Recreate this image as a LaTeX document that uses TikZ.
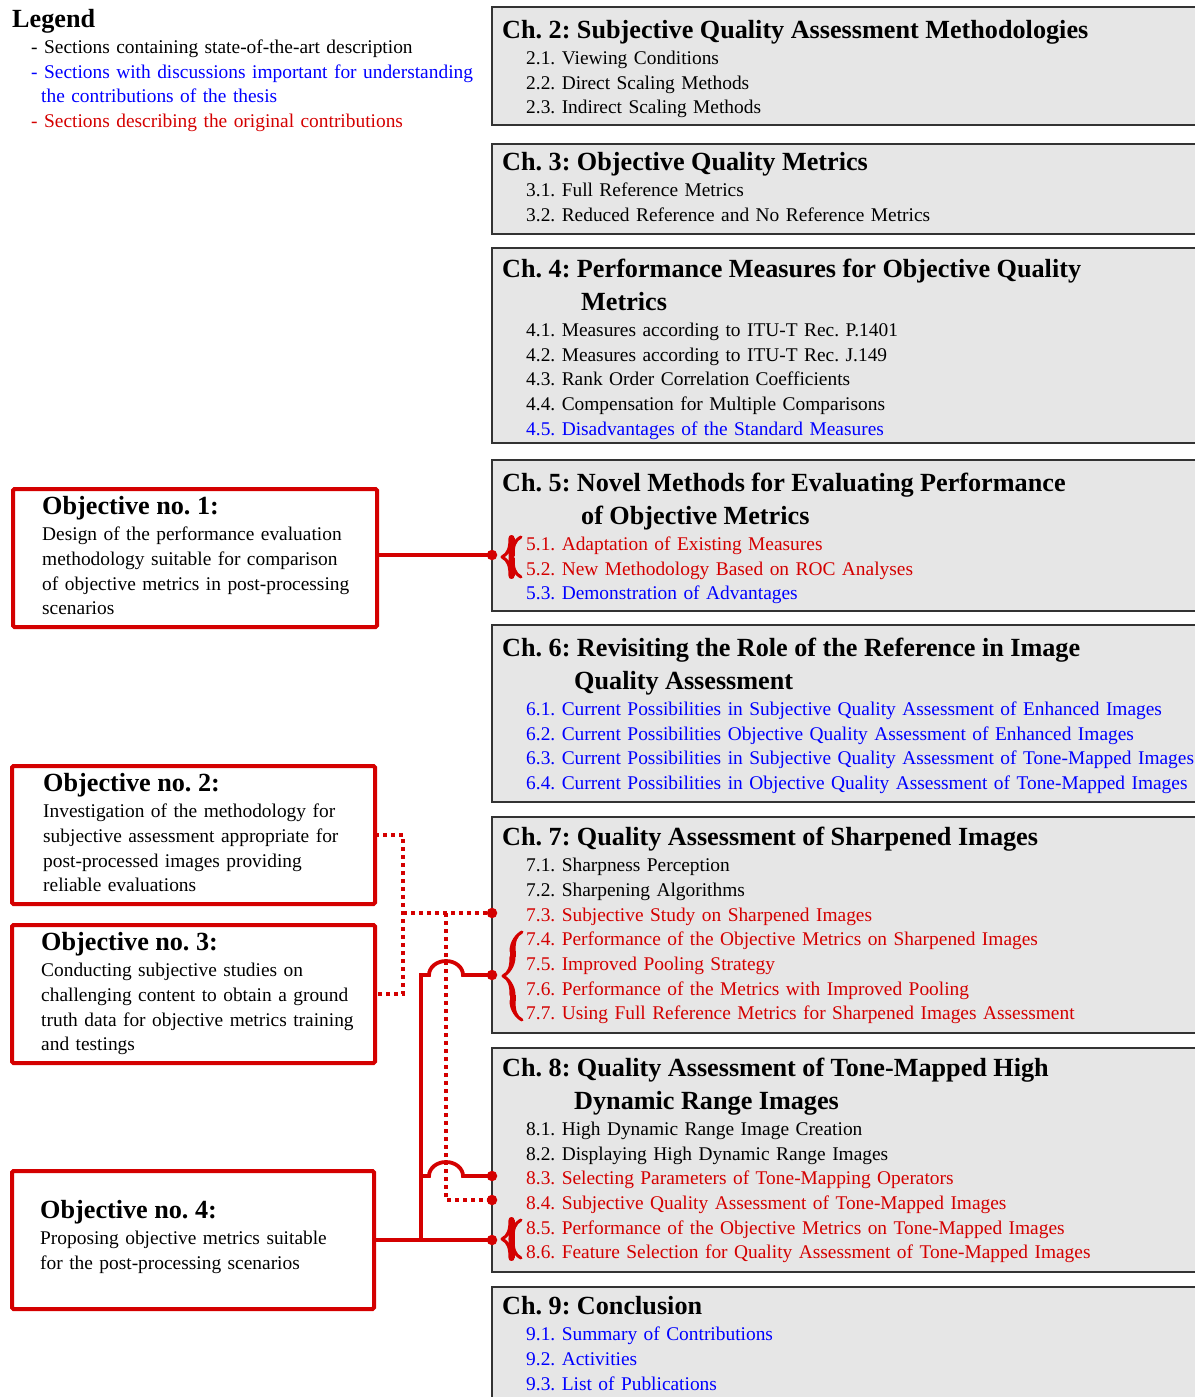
\documentclass[tikz,border=0pt]{standalone}
\usepackage{fontspec}
\setmainfont{Liberation Serif}
\usetikzlibrary{calc,decorations.pathreplacing,calligraphy}
\definecolor{objred}{RGB}{212,0,0}
\definecolor{secblue}{RGB}{0,0,255}
\definecolor{chgrey}{RGB}{230,230,230}
\newcommand{\bodyfont}{\fontsize{19.4pt}{24.7pt}\selectfont\frenchspacing\hyphenpenalty=10000}
\newcommand{\headfont}{\fontsize{26.2pt}{33pt}\selectfont\bfseries}
\newcommand{\chsec}[1]{\hspace*{24pt}#1}
\newcommand{\bsec}[1]{\hspace*{24pt}\textcolor{secblue}{#1}}
\newcommand{\rsec}[1]{\hspace*{24pt}\textcolor{objred}{#1}}

\begin{document}
\begin{tikzpicture}[x=1pt,y=-1pt]
\tikzstyle{chbox}=[rectangle, anchor=north west, draw=black!80, line width=1.8pt, fill=chgrey, minimum width=720pt, inner sep=0pt, outer sep=0pt]
\tikzstyle{chtext}=[anchor=base west, inner sep=0pt, text width=720pt, align=left, font=\bodyfont]
\tikzstyle{objbox}=[rectangle, anchor=north west, draw=objred, line width=4pt, rounded corners=1.5pt, minimum width=364pt, minimum height=138pt, inner sep=0pt, outer sep=0pt]
\tikzstyle{objtext}=[chtext, text width=340pt]
\tikzstyle{connect}=[objred, line width=3.8pt]
\tikzstyle{dotconnect}=[connect, dash pattern=on 4pt off 4pt]
\tikzstyle{jdot}=[circle, fill=objred, minimum size=10.5pt, inner sep=0pt]
\tikzstyle{secbrace}=[decorate, decoration={calligraphic brace, amplitude=19pt}, pen colour={objred}, line width=6pt]

  \useasboundingbox (0,0) rectangle (1194,1397);

  % legend
  \node[chtext] (legend) at (12,27.7) {{\headfont Legend}\\[1.2pt]
    \hspace*{19pt}- Sections containing state-of-the-art description\\
    \hspace*{19pt}\textcolor{secblue}{- Sections with discussions important for understanding}\\
    \hspace*{29pt}\textcolor{secblue}{the contributions of the thesis}\\
    \hspace*{19pt}\textcolor{objred}{- Sections describing the original contributions}};

  % chapters
  \node[chbox, minimum height=118pt] (ch2) at (492,7) {};
  \node[chtext] (ch2t) at ($(ch2.north west)+(10,31.7)$) {{\headfont Ch. 2: Subjective Quality Assessment Methodologies}\\[1.2pt]
    \chsec{2.1. Viewing Conditions}\\
    \chsec{2.2. Direct Scaling Methods}\\
    \chsec{2.3. Indirect Scaling Methods}};

  \node[chbox, minimum height=90pt] (ch3) at (492,144) {};
  \node[chtext] (ch3t) at ($(ch3.north west)+(10,26.7)$) {{\headfont Ch. 3: Objective Quality Metrics}\\[1.2pt]
    \chsec{3.1. Full Reference Metrics}\\
    \chsec{3.2. Reduced Reference and No Reference Metrics}};

  \node[chbox, minimum height=195pt] (ch4) at (492,248) {};
  \node[chtext] (ch4t) at ($(ch4.north west)+(10,29.7)$) {{\headfont Ch. 4: Performance Measures for Objective Quality}\\[8pt]
    {\headfont\hspace*{79pt}Metrics}\\[1.2pt]
    \chsec{4.1. Measures according to ITU-T Rec. P.1401}\\
    \chsec{4.2. Measures according to ITU-T Rec. J.149}\\
    \chsec{4.3. Rank Order Correlation Coefficients}\\
    \chsec{4.4. Compensation for Multiple Comparisons}\\
    \bsec{4.5. Disadvantages of the Standard Measures}};

  \node[chbox, minimum height=151pt] (ch5) at (492,460) {};
  \node[chtext] (ch5t) at ($(ch5.north west)+(10,31.7)$) {{\headfont Ch. 5: Novel Methods for Evaluating Performance}\\[8pt]
    {\headfont\hspace*{79pt}of Objective Metrics}\\[1.2pt]
    \rsec{5.1. Adaptation of Existing Measures}\\
    \rsec{5.2. New Methodology Based on ROC Analyses}\\
    \bsec{5.3. Demonstration of Advantages}};

  \node[chbox, minimum height=177pt] (ch6) at (492,625) {};
  \node[chtext] (ch6t) at ($(ch6.north west)+(10,31.7)$) {{\headfont Ch. 6: Revisiting the Role of the Reference in Image}\\[8pt]
    {\headfont\hspace*{72pt}Quality Assessment}\\[1.2pt]
    \bsec{6.1. Current Possibilities in Subjective Quality Assessment of Enhanced Images}\\
    \bsec{6.2. Current Possibilities Objective Quality Assessment of Enhanced Images}\\
    \bsec{6.3. Current Possibilities in Subjective Quality Assessment of Tone-Mapped Images}\\
    \bsec{6.4. Current Possibilities in Objective Quality Assessment of Tone-Mapped Images}};

  \node[chbox, minimum height=216pt] (ch7) at (492,817) {};
  \node[chtext] (ch7t) at ($(ch7.north west)+(10,28.7)$) {{\headfont Ch. 7: Quality Assessment of Sharpened Images}\\[1.2pt]
    \chsec{7.1. Sharpness Perception}\\
    \chsec{7.2. Sharpening Algorithms}\\
    \rsec{7.3. Subjective Study on Sharpened Images}\\
    \rsec{7.4. Performance of the Objective Metrics on Sharpened Images}\\
    \rsec{7.5. Improved Pooling Strategy}\\
    \rsec{7.6. Performance of the Metrics with Improved Pooling}\\
    \rsec{7.7. Using Full Reference Metrics for Sharpened Images Assessment}};

  \node[chbox, minimum height=224pt] (ch8) at (492,1048) {};
  \node[chtext] (ch8t) at ($(ch8.north west)+(10,28.7)$) {{\headfont Ch. 8: Quality Assessment of Tone-Mapped High}\\[8pt]
    {\headfont\hspace*{72pt}Dynamic Range Images}\\[1.2pt]
    \chsec{8.1. High Dynamic Range Image Creation}\\
    \chsec{8.2. Displaying High Dynamic Range Images}\\
    \rsec{8.3. Selecting Parameters of Tone-Mapping Operators}\\
    \rsec{8.4. Subjective Quality Assessment of Tone-Mapped Images}\\
    \rsec{8.5. Performance of the Objective Metrics on Tone-Mapped Images}\\
    \rsec{8.6. Feature Selection for Quality Assessment of Tone-Mapped Images}};

  \node[chbox, minimum height=140pt] (ch9) at (492,1287) {};
  \node[chtext] (ch9t) at ($(ch9.north west)+(10,27.7)$) {{\headfont Ch. 9: Conclusion}\\[1.2pt]
    \bsec{9.1. Summary of Contributions}\\
    \bsec{9.2. Activities}\\
    \bsec{9.3. List of Publications}};

  % objectives
  \node[objbox] (obj1) at (13,489) {};
  \node[objtext] (obj1t) at ($(obj1.north west)+(29,25.7)$) {{\headfont Objective no. 1:}\\[1.2pt]
    Design of the performance evaluation\\
    methodology suitable for comparison\\
    of objective metrics in post-processing\\
    scenarios};

  \node[objbox, minimum width=363pt] (obj2) at (12,766) {};
  \node[objtext] (obj2t) at ($(obj2.north west)+(31,25.7)$) {{\headfont Objective no. 2:}\\[1.2pt]
    Investigation of the methodology for\\
    subjective assessment appropriate for\\
    post-processed images providing\\
    reliable evaluations};

  \node[objbox, minimum width=363pt] (obj3) at (12,925) {};
  \node[objtext] (obj3t) at ($(obj3.north west)+(29,25.7)$) {{\headfont Objective no. 3:}\\[1.2pt]
    Conducting subjective studies on\\
    challenging content to obtain a ground\\
    truth data for objective metrics training\\
    and testings};

  \node[objbox, minimum width=362pt] (obj4) at (12,1171) {};
  \node[objtext] (obj4t) at ($(obj4.north west)+(28,47.7)$) {{\headfont Objective no. 4:}\\[1.2pt]
    Proposing objective metrics suitable\\
    for the post-processing scenarios};

  % braces
  \draw[secbrace] ($(ch5.north west)+(29,117)$) -- ($(ch5.north west)+(29,77)$);
  \draw[secbrace] ($(ch7.north west)+(30,203)$) -- ($(ch7.north west)+(30,115)$);
  \draw[secbrace] ($(ch8.north west)+(29,210)$) -- ($(ch8.north west)+(29,172)$);

  % connectors
  \coordinate (c5)  at ($(ch5.north west)+(0,95)$);
  \coordinate (c73) at ($(ch7.north west)+(0,96)$);
  \coordinate (c7)  at ($(ch7.north west)+(0,158)$);
  \coordinate (c83) at ($(ch8.north west)+(0,128)$);
  \coordinate (c84) at ($(ch8.north west)+(0,152)$);
  \coordinate (c8)  at ($(ch8.north west)+(0,192)$);
  \coordinate (dv) at (403,913);
  \coordinate (dw) at (446,913);
  \coordinate (sv) at (421,1240);

  \draw[connect] (obj1.east |- c5) -- (c5);

  \draw[dotconnect] (obj2.east) -- (obj2.east -| dv) -- (obj3.east -| dv) -- (obj3.east);
  \draw[dotconnect] (dv) -- (c73);
  \draw[dotconnect] (dw) |- (c84);

  \draw[connect] (obj4.east) -- (c8);
  \draw[connect] (sv) |- ($(dw |- c7)+(-17,0)$) arc[start angle=180, end angle=0, x radius=17pt, y radius=14pt] -- (c7);
  \draw[connect] (sv |- c83) -- ($(dw |- c83)+(-17,0)$) arc[start angle=180, end angle=0, x radius=17pt, y radius=14pt] -- (c83);

  \node[jdot] (dot5)  at (c5)  {};
  \node[jdot] (dot73) at (c73) {};
  \node[jdot] (dot7)  at (c7)  {};
  \node[jdot] (dot83) at (c83) {};
  \node[jdot] (dot84) at (c84) {};
  \node[jdot] (dot8)  at (c8)  {};

\end{tikzpicture}
\end{document}
